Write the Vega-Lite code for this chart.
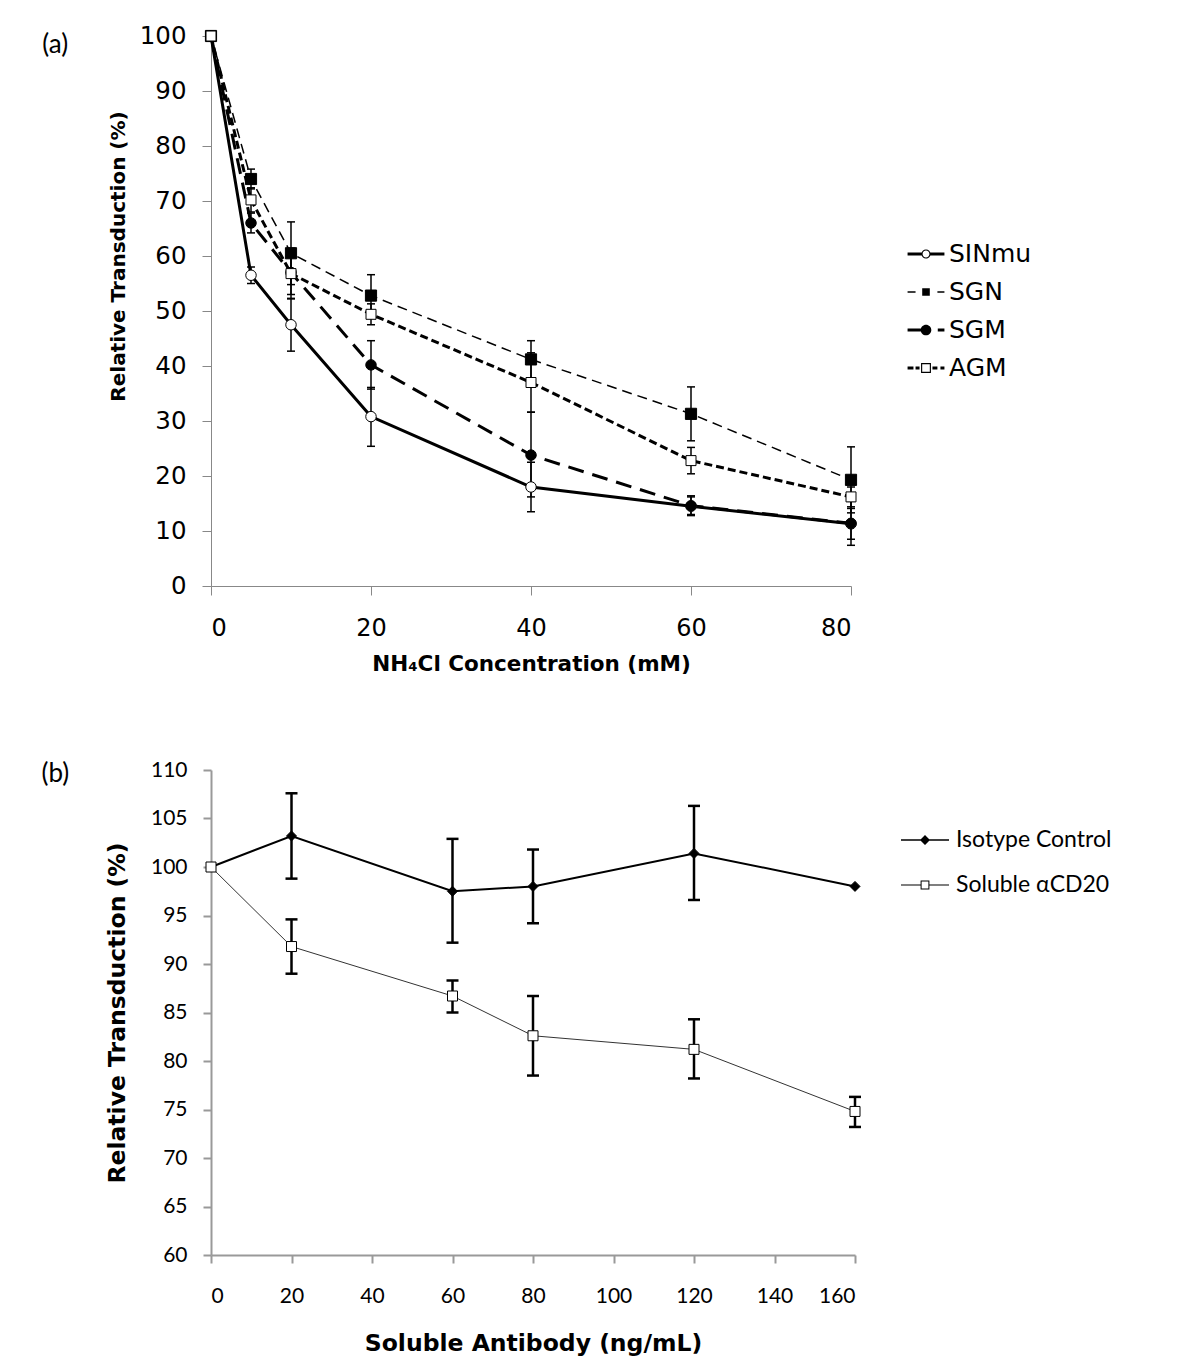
{
  "$schema": "https://vega.github.io/schema/vega-lite/v6.json",
  "background": "white",
  "padding": {"left": 41, "top": 23, "right": 5, "bottom": 5},
  "datasets": {
    "a": [
      {"series": "SINmu", "x": 0, "y": 100},
      {"series": "SINmu", "x": 5, "y": 56.5, "lo": 55.0, "hi": 58.0},
      {"series": "SINmu", "x": 10, "y": 47.5, "lo": 42.7, "hi": 52.3},
      {"series": "SINmu", "x": 20, "y": 30.8, "lo": 25.4, "hi": 36.1},
      {"series": "SINmu", "x": 40, "y": 18.0, "lo": 13.5, "hi": 22.5},
      {"series": "SINmu", "x": 60, "y": 14.5, "lo": 12.8, "hi": 16.2},
      {"series": "SINmu", "x": 80, "y": 11.3, "lo": 8.5, "hi": 14.1},
      {"series": "SGN", "x": 0, "y": 100},
      {"series": "SGN", "x": 5, "y": 74.0, "lo": 72.2, "hi": 75.8},
      {"series": "SGN", "x": 10, "y": 60.5, "lo": 54.8, "hi": 66.2},
      {"series": "SGN", "x": 20, "y": 52.8, "lo": 49.0, "hi": 56.6},
      {"series": "SGN", "x": 40, "y": 41.2, "lo": 37.8, "hi": 44.6},
      {"series": "SGN", "x": 60, "y": 31.3, "lo": 26.4, "hi": 36.2},
      {"series": "SGN", "x": 80, "y": 19.3, "lo": 13.3, "hi": 25.3},
      {"series": "SGM", "x": 0, "y": 100},
      {"series": "SGM", "x": 5, "y": 66.0, "lo": 64.2, "hi": 67.8},
      {"series": "SGM", "x": 10, "y": 57.0, "lo": 53.0, "hi": 61.0},
      {"series": "SGM", "x": 20, "y": 40.2, "lo": 35.8, "hi": 44.6},
      {"series": "SGM", "x": 40, "y": 23.8, "lo": 16.2, "hi": 31.6},
      {"series": "SGM", "x": 60, "y": 14.6, "lo": 13.0, "hi": 16.4},
      {"series": "SGM", "x": 80, "y": 11.4, "lo": 7.4, "hi": 15.4},
      {"series": "AGM", "x": 0, "y": 100},
      {"series": "AGM", "x": 5, "y": 70.2, "lo": 68.0, "hi": 72.4},
      {"series": "AGM", "x": 10, "y": 56.8, "lo": 52.2, "hi": 61.4},
      {"series": "AGM", "x": 20, "y": 49.4, "lo": 47.5, "hi": 51.3},
      {"series": "AGM", "x": 40, "y": 37.0, "lo": 31.6, "hi": 42.4},
      {"series": "AGM", "x": 60, "y": 22.8, "lo": 20.4, "hi": 25.2},
      {"series": "AGM", "x": 80, "y": 16.2, "lo": 14.4, "hi": 18.0}
    ],
    "b": [
      {"series": "Isotype Control", "x": 0, "y": 100},
      {"series": "Isotype Control", "x": 20, "y": 103.2, "lo": 98.8, "hi": 107.6},
      {"series": "Isotype Control", "x": 60, "y": 97.5, "lo": 92.2, "hi": 102.9},
      {"series": "Isotype Control", "x": 80, "y": 98.0, "lo": 94.2, "hi": 101.8},
      {"series": "Isotype Control", "x": 120, "y": 101.4, "lo": 96.6, "hi": 106.3},
      {"series": "Isotype Control", "x": 160, "y": 98.0},
      {"series": "Soluble  αCD20", "x": 0, "y": 100},
      {"series": "Soluble  αCD20", "x": 20, "y": 91.8, "lo": 89.0, "hi": 94.6},
      {"series": "Soluble  αCD20", "x": 60, "y": 86.7, "lo": 85.0, "hi": 88.3},
      {"series": "Soluble  αCD20", "x": 80, "y": 82.6, "lo": 78.5, "hi": 86.7},
      {"series": "Soluble  αCD20", "x": 120, "y": 81.2, "lo": 78.2, "hi": 84.3},
      {"series": "Soluble  αCD20", "x": 160, "y": 74.8, "lo": 73.2, "hi": 76.3}
    ]
  },
  "columns": 1,
  "align": "none",
  "spacing": 84,
  "resolve": {
    "scale": {"shape": "independent", "x": "independent", "y": "independent"},
    "legend": {"shape": "independent"}
  },
  "config": {
    "view": {"stroke": null},
    "axis": {"grid": false, "labelColor": "black", "titleColor": "black", "titleFont": "DejaVu Sans", "titleFontWeight": "bold", "titleFontSize": 20}
  },
  "concat": [
    {
      "width": 640,
      "height": 550,
      "title": {"text": "(a)", "anchor": "start", "frame": "bounds", "font": "Lato", "fontSize": 26, "fontWeight": "normal", "color": "black", "dx": -66, "dy": 39},
      "data": {"name": "a"},
      "encoding": {
        "x": {"field": "x", "type": "quantitative", "scale": {"domain": [0, 80], "nice": false},
          "axis": {"values": [0, 20, 40, 60, 80], "title": "NH₄Cl Concentration (mM)", "titleFontSize": 21.5, "labelFont": "DejaVu Sans", "labelFontSize": 24, "tickSize": 9, "tickColor": "#888", "domainColor": "#888", "labelPadding": 21, "titlePadding": 13}},
        "y": {"field": "y", "type": "quantitative", "scale": {"domain": [0, 100], "nice": false},
          "axis": {"values": [0, 10, 20, 30, 40, 50, 60, 70, 80, 90, 100], "title": "Relative Transduction (%)", "titleY": 220, "labelFont": "DejaVu Sans", "labelFontSize": 24.5, "tickSize": 9, "tickColor": "#888", "domainColor": "#888", "labelPadding": 16, "titlePadding": 11}}
      },
      "layer": [
        {"transform": [{"filter": "datum.series === 'SINmu'"}], "mark": {"type": "line", "strokeWidth": 3, "color": "black"}, "encoding": {}},
        {"transform": [{"filter": "datum.series === 'SGN'"}], "mark": {"type": "line", "strokeWidth": 1.5, "color": "black", "strokeDash": [10, 6]}, "encoding": {}},
        {"transform": [{"filter": "datum.series === 'SGM'"}], "mark": {"type": "line", "strokeWidth": 3, "color": "black", "strokeDash": [16, 9]}, "encoding": {}},
        {"transform": [{"filter": "datum.series === 'AGM'"}], "mark": {"type": "line", "strokeWidth": 3, "color": "black", "strokeDash": [8, 4]}, "encoding": {}},
        {
          "mark": {"type": "rule", "strokeWidth": 1.5, "color": "black"},
          "encoding": {"y": {"field": "lo", "type": "quantitative"}, "y2": {"field": "hi"}}
        },
        {
          "mark": {"type": "point", "shape": "M-1,0H1", "size": 64, "strokeWidth": 1.5, "color": "black", "filled": false, "opacity": 1},
          "encoding": {"y": {"field": "lo", "type": "quantitative"}}
        },
        {
          "mark": {"type": "point", "shape": "M-1,0H1", "size": 64, "strokeWidth": 1.5, "color": "black", "filled": false, "opacity": 1},
          "encoding": {"y": {"field": "hi", "type": "quantitative"}}
        },
        {"transform": [{"filter": "datum.series === 'SINmu'"}], "mark": {"type": "point", "shape": "circle", "size": 110, "filled": true, "fill": "white", "stroke": "black", "strokeWidth": 1, "opacity": 1}, "encoding": {}},
        {"transform": [{"filter": "datum.series === 'SGN'"}], "mark": {"type": "point", "shape": "square", "size": 125, "filled": true, "fill": "black", "stroke": "black", "strokeWidth": 1, "opacity": 1}, "encoding": {}},
        {"transform": [{"filter": "datum.series === 'SGM'"}], "mark": {"type": "point", "shape": "circle", "size": 110, "filled": true, "fill": "black", "stroke": "black", "strokeWidth": 1, "opacity": 1}, "encoding": {}},
        {"transform": [{"filter": "datum.series === 'AGM'"}], "mark": {"type": "point", "shape": "square", "size": 100, "filled": true, "fill": "white", "stroke": "black", "strokeWidth": 1, "opacity": 1}, "encoding": {}},
        {
          "transform": [{"filter": "datum.x === 0"}],
          "mark": {"type": "point", "filled": true, "color": "black", "size": 0, "opacity": 1},
          "encoding": {
            "shape": {"field": "series", "type": "nominal",
              "scale": {"domain": ["SINmu", "SGN", "SGM", "AGM"], "range": [
                "M-0.97,-0.08V0.08H-0.2V-0.08Z M0.2,-0.08V0.08H0.97V-0.08Z M0.24,0A0.24,0.24,0,1,0,-0.24,0A0.24,0.24,0,1,0,0.24,0Z M0.18,0A0.18,0.18,0,1,1,-0.18,0A0.18,0.18,0,1,1,0.18,0Z",
                "M-0.97,-0.04H-0.55V0.04H-0.97Z M-0.2,-0.2H0.2V0.2H-0.2Z M0.6,-0.04H0.97V0.04H0.6Z",
                "M-0.97,-0.08V0.08H-0.1V-0.08Z M0.28,0A0.28,0.28,0,1,0,-0.28,0A0.28,0.28,0,1,0,0.28,0Z M0.62,-0.08V0.08H0.97V-0.08Z",
                "M-0.97,-0.08H-0.66V0.08H-0.97Z M-0.55,-0.08H-0.34V0.08H-0.55Z M-0.26,-0.26H0.26V0.26H-0.26Z M-0.2,-0.2V0.2H0.2V-0.2Z M0.34,-0.08H0.6V0.08H0.34Z M0.76,-0.08H0.97V0.08H0.76Z"
              ]},
              "legend": {"orient": "none", "legendX": 696, "legendY": 199, "title": null, "symbolSize": 1444, "rowPadding": 6, "labelFont": "DejaVu Sans", "labelFontSize": 25, "labelColor": "black", "labelOffset": 4, "symbolFillColor": "black", "symbolStrokeWidth": 0, "symbolOpacity": 1}
            }
          }
        }
      ]
    },
    {
      "width": 644,
      "height": 485,
      "title": {"text": "(b)", "anchor": "start", "frame": "bounds", "font": "Lato", "fontSize": 26, "fontWeight": "normal", "color": "black", "dx": -64, "dy": 32},
      "data": {"name": "b"},
      "encoding": {
        "x": {"field": "x", "type": "quantitative", "scale": {"domain": [0, 160], "nice": false},
          "axis": {"values": [0, 20, 40, 60, 80, 100, 120, 140, 160], "title": "Soluble Antibody (ng/mL)", "titleFontSize": 23.5, "labelFont": "Lato", "labelFontSize": 21, "tickSize": 8, "tickWidth": 2, "tickColor": "#999", "domainColor": "#999", "domainWidth": 2, "labelPadding": 22, "titlePadding": 25}},
        "y": {"field": "y", "type": "quantitative", "scale": {"domain": [60, 110], "nice": false, "zero": false},
          "axis": {"values": [60, 65, 70, 75, 80, 85, 90, 95, 100, 105, 110], "title": "Relative Transduction (%)", "titleFontSize": 23.5, "labelFont": "Lato", "labelFontSize": 21, "tickSize": 8, "tickWidth": 2, "tickColor": "#999", "domainColor": "#999", "domainWidth": 2, "labelPadding": 16, "titlePadding": 21}}
      },
      "layer": [
        {"transform": [{"filter": "datum.series === 'Isotype Control'"}], "mark": {"type": "line", "strokeWidth": 2, "color": "black"}, "encoding": {}},
        {"transform": [{"filter": "datum.series !== 'Isotype Control'"}], "mark": {"type": "line", "strokeWidth": 1, "color": "#333"}, "encoding": {}},
        {
          "mark": {"type": "rule", "strokeWidth": 2.5, "color": "black"},
          "encoding": {"y": {"field": "lo", "type": "quantitative"}, "y2": {"field": "hi"}}
        },
        {
          "mark": {"type": "point", "shape": "M-1,0H1", "size": 144, "strokeWidth": 2.5, "color": "black", "filled": false, "opacity": 1},
          "encoding": {"y": {"field": "lo", "type": "quantitative"}}
        },
        {
          "mark": {"type": "point", "shape": "M-1,0H1", "size": 144, "strokeWidth": 2.5, "color": "black", "filled": false, "opacity": 1},
          "encoding": {"y": {"field": "hi", "type": "quantitative"}}
        },
        {"transform": [{"filter": "datum.series === 'Isotype Control'"}], "mark": {"type": "point", "shape": "diamond", "size": 100, "filled": true, "fill": "black", "stroke": "black", "strokeWidth": 1, "opacity": 1}, "encoding": {}},
        {"transform": [{"filter": "datum.series !== 'Isotype Control'"}], "mark": {"type": "point", "shape": "square", "size": 100, "filled": true, "fill": "white", "stroke": "black", "strokeWidth": 1, "opacity": 1}, "encoding": {}},
        {
          "transform": [{"filter": "datum.x === 0"}],
          "mark": {"type": "point", "filled": true, "color": "black", "size": 0, "opacity": 1},
          "encoding": {
            "shape": {"field": "series", "type": "nominal",
              "scale": {"domain": ["Isotype Control", "Soluble  αCD20"], "range": [
                "M-1.2,-0.04H1.2V0.04H-1.2Z M-0.25,0L0,-0.25L0.25,0L0,0.25Z",
                "M-1.2,-0.03H-0.2V0.03H-1.2Z M0.2,-0.03H1.2V0.03H0.2Z M-0.22,-0.22H0.22V0.22H-0.22Z M-0.17,-0.17V0.17H0.17V-0.17Z"
              ]},
              "legend": {"orient": "none", "legendX": 694, "legendY": 50, "title": null, "symbolSize": 1600, "rowPadding": 13, "labelFont": "Lato", "labelFontSize": 23, "labelColor": "black", "labelOffset": 11, "symbolFillColor": "black", "symbolStrokeWidth": 0, "symbolOpacity": 1}
            }
          }
        }
      ]
    }
  ]
}
